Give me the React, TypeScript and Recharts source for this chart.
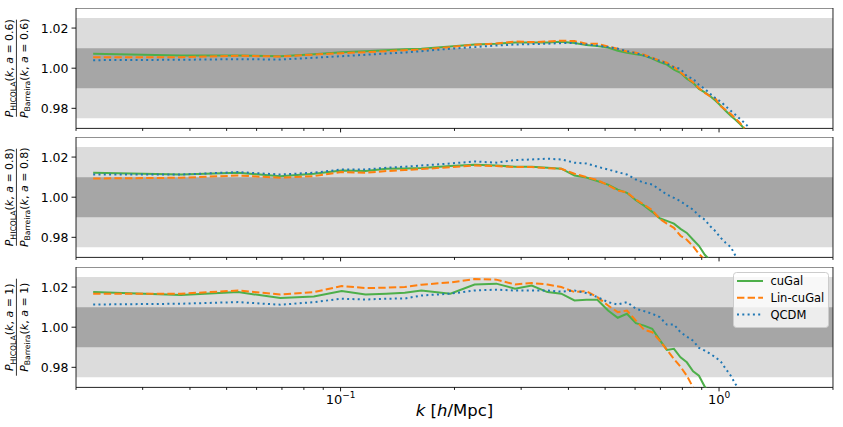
import { LineChart, Line, XAxis, YAxis, ReferenceArea, Legend } from "recharts";

// k bins [h/Mpc]
const K = [
  0.0222, 0.0379, 0.0536, 0.0693, 0.085, 0.1007, 0.1164, 0.1321, 0.1478,
  0.1635, 0.195, 0.226, 0.258, 0.289, 0.32, 0.352, 0.383, 0.415, 0.446,
  0.477, 0.509, 0.54, 0.571, 0.603, 0.634, 0.666, 0.697, 0.728, 0.76, 0.791,
  0.822, 0.854, 0.885, 0.917, 0.948, 0.979, 1.011, 1.042, 1.074, 1.105,
  1.136, 1.168, 1.199,
];

// a = 0.6
const CUGAL_06 = [
  1.0072, 1.0063, 1.0063, 1.006, 1.007, 1.008, 1.0085, 1.009, 1.0095,
  1.0097, 1.0108, 1.0118, 1.0122, 1.0128, 1.0128, 1.0128, 1.0132, 1.0125,
  1.0115, 1.011, 1.0103, 1.0087, 1.0077, 1.007, 1.0063, 1.0048, 1.003,
  1.0018, 0.9993, 0.9977, 0.9947, 0.9927, 0.9897, 0.988, 0.986, 0.9838,
  0.9813, 0.9787, 0.9763, 0.9743, 0.9722, 0.9697, null,
];
const LIN_06 = [
  1.0055, 1.0055, 1.0062, 1.0058, 1.0068, 1.0075, 1.008, 1.0085, 1.009,
  1.0093, 1.0105, 1.0117, 1.0123, 1.0133, 1.013, 1.0133, 1.0137, 1.0135,
  1.0122, 1.0122, 1.0108, 1.0097, 1.0083, 1.0077, 1.0067, 1.0052, 1.0038,
  1.0027, 1.0005, 0.998, 0.9953, 0.993, 0.99, 0.9877, 0.986, 0.9847, 0.981,
  0.9792, 0.9772, 0.975, 0.9727, 0.97, null,
];
const QCDM_06 = [
  1.004, 1.0042, 1.0045, 1.0043, 1.0052, 1.006, 1.0067, 1.0073, 1.0078,
  1.0085, 1.0097, 1.0105, 1.0113, 1.0118, 1.012, 1.0122, 1.0125, 1.0125,
  1.0118, 1.0113, 1.0105, 1.0097, 1.0085, 1.0075, 1.0063, 1.005, 1.0037,
  1.0022, 1.0005, 0.9997, 0.996, 0.9947, 0.9917, 0.9897, 0.9872, 0.985,
  0.9833, 0.981, 0.9788, 0.9768, 0.9747, 0.9727, 0.9705,
];

// a = 0.8
const CUGAL_08 = [
  1.0122, 1.0113, 1.0122, 1.0105, 1.0117, 1.0133, 1.013, 1.0142, 1.0143,
  1.0145, 1.0155, 1.0162, 1.0158, 1.0152, 1.0152, 1.0147, 1.0142, 1.0108,
  1.0098, 1.008, 1.0063, 1.0038, 1.0022, 0.9985, 0.9958, 0.9927, 0.9895,
  0.9882, 0.9868, 0.9842, 0.9822, 0.9788, 0.9758, 0.9713, 0.9685, null,
  null, null, null, null, null, null, null,
];
const LIN_08 = [
  1.0093, 1.0097, 1.0108, 1.0097, 1.0105, 1.0125, 1.0122, 1.013, 1.0135,
  1.014, 1.015, 1.0158, 1.0155, 1.015, 1.015, 1.0145, 1.0142, 1.0117, 1.01,
  1.0085, 1.006, 1.0033, 1.0025, 0.9988, 0.9963, 0.9935, 0.9892, 0.9868,
  0.9847, 0.9808, 0.9788, 0.9755, 0.9718, 0.9688, null, null, null, null,
  null, null, null, null, null,
];
const QCDM_08 = [
  1.0113, 1.0113, 1.0125, 1.0113, 1.0122, 1.0138, 1.0138, 1.0147, 1.0152,
  1.0158, 1.0168, 1.0178, 1.0172, 1.0185, 1.0188, 1.0192, 1.0188, 1.0172,
  1.0168, 1.0152, 1.0138, 1.0125, 1.0113, 1.0088, 1.0072, 1.0063, 1.0038,
  1.0013, 0.9997, 0.998, 0.9958, 0.9938, 0.9908, 0.9888, 0.9855, 0.983,
  0.9797, 0.9772, 0.9752, 0.9708, 0.968, null, null,
];

// a = 1
const CUGAL_10 = [
  1.0175, 1.016, 1.0175, 1.0145, 1.0153, 1.018, 1.0163, 1.0167, 1.0172,
  1.0183, 1.0167, 1.0213, 1.0217, 1.0192, 1.0208, 1.0175, 1.0167, 1.0133,
  1.0137, 1.0137, 1.0083, 1.0047, 1.0067, 1.002, 1.0008, 0.9992, 0.9937,
  0.9887, 0.9892, 0.985, 0.9825, 0.978, 0.9758, 0.9703, 0.9675, null, null,
  null, null, null, null, null, null,
];
const LIN_10 = [
  1.0167, 1.0167, 1.0183, 1.0163, 1.0175, 1.0205, 1.0195, 1.0197, 1.02,
  1.0212, 1.0223, 1.024, 1.0237, 1.0213, 1.022, 1.0213, 1.02, 1.0175, 1.018,
  1.015, 1.0108, 1.0075, 1.0083, 1.0033, 0.9987, 0.9975, 0.9933, 0.9887,
  0.9842, 0.9803, 0.9758, 0.97, null, null, null, null, null, null, null,
  null, null, null, null,
];
const QCDM_10 = [
  1.0113, 1.0117, 1.0125, 1.0112, 1.0125, 1.0142, 1.0138, 1.0142, 1.0143,
  1.0158, 1.0167, 1.0183, 1.0187, 1.0183, 1.0183, 1.0183, 1.0177, 1.0183,
  1.017, 1.015, 1.0125, 1.0113, 1.0125, 1.0092, 1.008, 1.0067, 1.005,
  1.0013, 1.0013, 0.9975, 0.9953, 0.9933, 0.9897, 0.9883, 0.9867, 0.985,
  0.9828, 0.9792, 0.9758, 0.9717, 0.9683, null, null,
];

const X_TICKS = [
  0.02, 0.03, 0.04, 0.05, 0.06, 0.07, 0.08, 0.09, 0.1, 0.2, 0.3, 0.4, 0.5,
  0.6, 0.7, 0.8, 0.9, 1, 2,
];
const X_MAJOR: Record<number, string> = { 0.1: "\u22121", 1: "0" };
const Y_TICKS = [0.98, 1.0, 1.02];

const GREEN = "#4daf4a";
const ORANGE = "#ff7f0e";
const BLUE = "#1f77b4";
const FONT = "DejaVu Sans";

const PANELS = [
  { a: "0.6", top: 8.3, cugal: CUGAL_06, lin: LIN_06, qcdm: QCDM_06 },
  { a: "0.8", top: 137.3, cugal: CUGAL_08, lin: LIN_08, qcdm: QCDM_08 },
  { a: "1", top: 266.7, cugal: CUGAL_10, lin: LIN_10, qcdm: QCDM_10 },
];

const PLOT_H = 120.4;

function XTick(props: any) {
  const { x, y, payload, showLabel } = props;
  const exp = X_MAJOR[payload.value];
  const major = exp !== undefined;
  return (
    <g>
      <line
        x1={x}
        x2={x}
        y1={y}
        y2={y + (major ? 4 : 2.5)}
        stroke="#000"
        strokeWidth={0.9}
      />
      {showLabel && major && (
        <text x={x} y={y + 17} textAnchor="middle" fontSize={13} fontFamily={FONT} fill="#000">
          10
          <tspan dy={-6} fontSize={9}>
            {exp}
          </tspan>
        </text>
      )}
    </g>
  );
}

function ratioLabel(a: string) {
  return (props: any) => {
    const vb = props.viewBox;
    const cy = vb.y + vb.height / 2;
    return (
      <g fontFamily={FONT} fontSize={11} fill="#000">
        <text transform={`rotate(-90 13 ${cy})`} x={13} y={cy} textAnchor="middle">
          <tspan fontStyle="italic">P</tspan>
          <tspan fontSize={7.7} dy={2.5}>HICOLA</tspan>
          <tspan dy={-2.5}>(</tspan>
          <tspan fontStyle="italic">k</tspan>
          <tspan>, </tspan>
          <tspan fontStyle="italic">a</tspan>
          <tspan>{` = ${a})`}</tspan>
        </text>
        <line x1={16.4} x2={16.4} y1={cy - 48.5} y2={cy + 48.5} stroke="#000" strokeWidth={0.8} />
        <text transform={`rotate(-90 27.5 ${cy})`} x={27.5} y={cy} textAnchor="middle">
          <tspan fontStyle="italic">P</tspan>
          <tspan fontSize={7.7} dy={2.5}>Barreira</tspan>
          <tspan dy={-2.5}>(</tspan>
          <tspan fontStyle="italic">k</tspan>
          <tspan>, </tspan>
          <tspan fontStyle="italic">a</tspan>
          <tspan>{` = ${a})`}</tspan>
        </text>
      </g>
    );
  };
}

function kLabel(props: any) {
  const vb = props.viewBox;
  return (
    <text
      x={vb.x + vb.width / 2}
      y={vb.y + 29}
      textAnchor="middle"
      fontSize={16.5}
      fontFamily={FONT}
      fill="#000"
    >
      <tspan fontStyle="italic">k</tspan>
      <tspan> [</tspan>
      <tspan fontStyle="italic">h</tspan>
      <tspan>/Mpc]</tspan>
    </text>
  );
}

const LEGEND_ITEMS = [
  { name: "cuGal", color: GREEN, dash: undefined },
  { name: "Lin-cuGal", color: ORANGE, dash: "7.4 3.2" },
  { name: "QCDM", color: BLUE, dash: "2 3.3" },
];

function LegendBox() {
  return (
    <svg width={96} height={57} style={{ display: "block" }}>
      <rect
        x={0.5}
        y={0.5}
        width={95}
        height={55}
        rx={3}
        fill="#fff"
        fillOpacity={0.8}
        stroke="#cccccc"
      />
      {LEGEND_ITEMS.map((it, i) => (
        <g key={it.name}>
          <line
            x1={4}
            x2={30}
            y1={9 + i * 16.7}
            y2={9 + i * 16.7}
            stroke={it.color}
            strokeWidth={2}
            strokeDasharray={it.dash}
          />
          <text
            x={37.5}
            y={9 + i * 16.7}
            dy="0.36em"
            fontSize={11.5}
            fontFamily={FONT}
            fill="#000"
          >
            {it.name}
          </text>
        </g>
      ))}
    </svg>
  );
}

function Panel({ index }: { index: number }) {
  const p = PANELS[index];
  const last = index === PANELS.length - 1;
  const axisH = last ? 41 : 6;
  const data = K.map((k, i) => ({
    k,
    cuGal: p.cugal[i],
    lin: p.lin[i],
    qcdm: p.qcdm[i],
  }));

  return (
    <div style={{ position: "absolute", left: 0, top: p.top }}>
      <LineChart
        width={843}
        height={PLOT_H + axisH}
        data={data}
        margin={{ top: 0, right: 10, bottom: 0, left: 0 }}
      >
        <XAxis
          dataKey="k"
          type="number"
          scale="log"
          domain={[0.02, 2]}
          allowDataOverflow
          ticks={X_TICKS}
          interval={0}
          height={axisH}
          tickSize={0}
          tickMargin={0}
          tickLine={false}
          axisLine={false}
          tick={(tp: any) => <XTick {...tp} showLabel={last} />}
          label={last ? kLabel : undefined}
        />
        <YAxis
          type="number"
          domain={[0.97, 1.03]}
          allowDataOverflow
          ticks={Y_TICKS}
          interval={0}
          width={76}
          tickSize={4.5}
          tickMargin={3}
          axisLine={false}
          tickLine={{ stroke: "#000", strokeWidth: 0.9 }}
          tick={{ fontSize: 12.5, fill: "#000", fontFamily: FONT }}
          tickFormatter={(v: number) => v.toFixed(2)}
          label={ratioLabel(p.a)}
        />
        <ReferenceArea y1={0.975} y2={1.025} fill="#dcdcdc" fillOpacity={1} stroke="none" />
        <ReferenceArea y1={0.99} y2={1.01} fill="#a6a6a6" fillOpacity={1} stroke="none" />
        <Line
          dataKey="cuGal"
          name="cuGal"
          type="linear"
          stroke={GREEN}
          strokeWidth={2}
          dot={false}
          isAnimationActive={false}
        />
        <Line
          dataKey="lin"
          name="Lin-cuGal"
          type="linear"
          stroke={ORANGE}
          strokeWidth={2}
          strokeDasharray="7.4 3.2"
          dot={false}
          isAnimationActive={false}
        />
        <Line
          dataKey="qcdm"
          name="QCDM"
          type="linear"
          stroke={BLUE}
          strokeWidth={2}
          strokeDasharray="2 3.3"
          dot={false}
          isAnimationActive={false}
        />
        <ReferenceArea
          x1={0.02}
          x2={2}
          y1={0.97}
          y2={1.03}
          fill="none"
          stroke="#222"
          strokeWidth={1}
        />
        {last && (
          <Legend
            layout="horizontal"
            verticalAlign="middle"
            content={() => <LegendBox />}
            wrapperStyle={{ position: "absolute", left: 733, top: 5.3, width: 96, height: 57 }}
          />
        )}
      </LineChart>
    </div>
  );
}

export default function App() {
  return (
    <div
      style={{
        position: "absolute",
        left: 0,
        top: 0,
        width: 843,
        height: 427,
        background: "#fff",
      }}
    >
      {PANELS.map((p, i) => (
        <Panel key={p.a} index={i} />
      ))}
    </div>
  );
}
